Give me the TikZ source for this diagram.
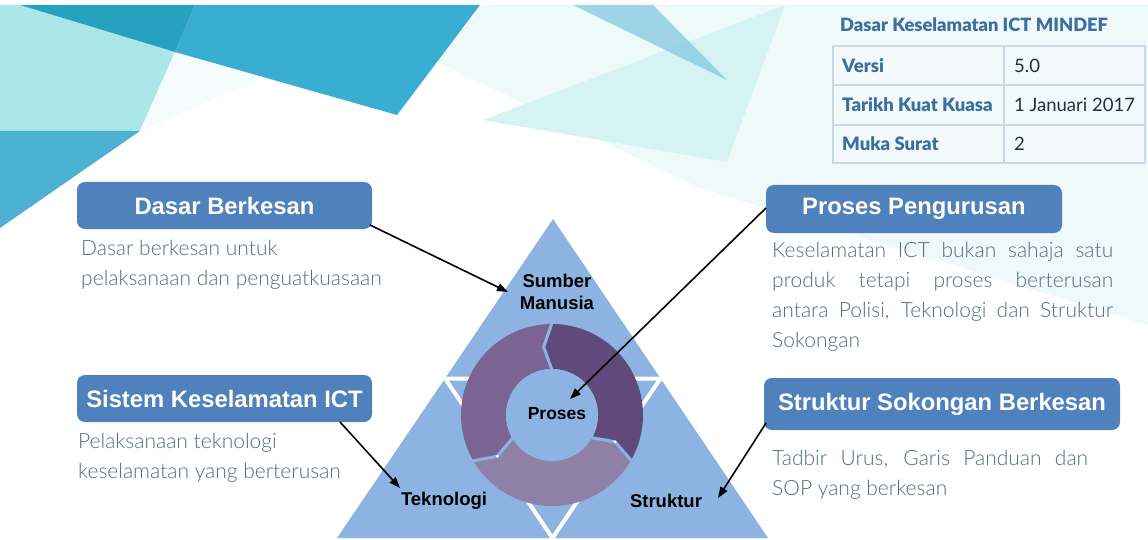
\documentclass[tikz,border=0pt]{standalone}
\usepackage{fontspec}
\setmainfont{Lato}
\newfontfamily\arialf{Liberation Sans}
\newfontfamily\latolight{Lato Light}
\newfontfamily\latoblack{Lato Black}
\usetikzlibrary{arrows.meta}
\definecolor{bgLight}{HTML}{EEF9FA}
\definecolor{bgFaint}{HTML}{F4FCFC}
\definecolor{bgTeal}{HTML}{ABE6E8}
\definecolor{bgMid}{HTML}{4DB1D4}
\definecolor{bgDark}{HTML}{27A1BD}
\definecolor{bgBand}{HTML}{3AAED0}
\definecolor{bgCyan}{HTML}{D6F3F3}
\definecolor{bgBlue}{HTML}{7CC6DE}
\definecolor{triBlue}{HTML}{8DB3E2}
\definecolor{segDark}{HTML}{604A7B}
\definecolor{segMid}{HTML}{7A6592}
\definecolor{segLight}{HTML}{8F80A8}
\definecolor{hdrBlue}{HTML}{4F81BD}
\definecolor{bodyText}{HTML}{566A84}
\definecolor{tblLine}{HTML}{CAD9E8}
\definecolor{tblFill}{HTML}{F2FAFB}
\definecolor{tblLabel}{HTML}{3E6E9E}
\definecolor{tblValue}{HTML}{1F2F45}
\tikzset{
  hdr/.style={fill=hdrBlue, rounded corners=8pt, text=white, inner sep=0pt,
    font=\arialf\bfseries\fontsize{23.8}{28}\selectfont},
  body/.style={anchor=base west, inner sep=0pt, text=bodyText},
  trilabel/.style={inner sep=0pt, text=black, align=center,
    font=\arialf\bfseries\fontsize{18.5}{22}\selectfont},
  conn/.style={draw=black, line width=1.6pt, -{Triangle[length=11pt,width=8pt]}},
  tbllabel/.style={anchor=base west, inner sep=0pt, text=tblLabel,
    font=\latoblack\fontsize{18.5}{22}\selectfont},
  tblvalue/.style={anchor=base west, inner sep=0pt, text=tblValue,
    font=\fontsize{18.5}{22}\selectfont},
  gap/.style={draw=triBlue, line width=3pt, line join=round}
}
\newcommand{\bodypar}[2]{\parbox[t]{#1}{\latolight\fontsize{21}{30}\selectfont\raggedright #2}}
\begin{document}
\begin{tikzpicture}[x=1pt,y=-1pt]
\useasboundingbox (0,0) rectangle (1148,540);
\fill[white] (0,0) rectangle (1148,540);
% background shapes
\fill[bgLight] (483,5) -- (1148,5) -- (1148,325) -- (700,188) -- (437,62) -- cycle;
\fill[bgCyan] (483,120) -- (785,5) -- (727,162) -- cycle;
\fill[bgBlue, opacity=0.7] (573,5) -- (653,5) -- (727,80) -- cycle;
\fill[bgTeal] (0,5) -- (20,5) -- (175,52) -- (140,131) -- (0,131) -- cycle;
\fill[bgMid] (0,131) -- (140,131) -- (0,228) -- cycle;
\fill[bgFaint] (175,52) -- (262,78) -- (140,131) -- cycle;
\fill[bgDark] (20,5) -- (195,5) -- (175,52) -- cycle;
\fill[bgBand] (195,5) -- (480,5) -- (397,115) -- (175,52) -- cycle;
% table
\draw[tblLine, line width=2pt, fill=tblFill] (833,46) rectangle (1145,163);
\draw[tblLine, line width=2pt] (833,85.5) -- (1145,85.5) (833,125) -- (1145,125) (1004,46) -- (1004,163);
\node[anchor=base west, inner sep=0pt, text=tblLabel, font=\latoblack\fontsize{18.3}{20}\selectfont] (tblTitle) at (840,32) {Dasar Keselamatan ICT MINDEF};
\node[tbllabel] (lVersi) at (842,73) {Versi};
\node[tbllabel] (lTarikh) at (842,112) {Tarikh Kuat Kuasa};
\node[tbllabel] (lMuka) at (842,151) {Muka Surat};
\node[tblvalue] (vVersi) at (1014,73) {5.0};
\node[tblvalue] (vTarikh) at (1014,112) {1 Januari 2017};
\node[tblvalue] (vMuka) at (1014,151) {2};
% triangle
\fill[triBlue] (553,219) -- (768,538) -- (337,538) -- cycle;
\draw[white, line width=4pt, line join=bevel] (445,378.5) -- (660.5,378.5) -- (552.5,538) -- cycle;
% ring
\begin{scope}[shift={(552,415)}]
  \fill[segDark] (-30:91pt) arc[start angle=-30, end angle=90, radius=91pt] -- (97:68.5pt) -- (90:46pt)
     arc[start angle=90, end angle=-30, radius=46pt] -- (-23:68.5pt) -- cycle;
  \fill[segMid] (90:91pt) arc[start angle=90, end angle=210, radius=91pt] -- (217:68.5pt) -- (210:46pt)
     arc[start angle=210, end angle=90, radius=46pt] -- (97:68.5pt) -- cycle;
  \fill[segLight] (210:91pt) arc[start angle=210, end angle=330, radius=91pt] -- (337:68.5pt) -- (330:46pt)
     arc[start angle=330, end angle=210, radius=46pt] -- (217:68.5pt) -- cycle;
  \draw[gap] (90:92pt) -- (97:68.5pt) -- (90:45pt);
  \draw[gap] (210:92pt) -- (217:68.5pt) -- (210:45pt);
  \draw[gap] (330:92pt) -- (337:68.5pt) -- (330:45pt);
  \fill[white] (217:68.5pt) circle[radius=1.5pt] (337:68.5pt) circle[radius=1.5pt];
  \fill[triBlue] (0,0) circle[radius=46pt];
\end{scope}
\node[trilabel] (sumber) at (557,292) {Sumber\\Manusia};
\node[trilabel, font=\arialf\bfseries\fontsize{17.5}{21}\selectfont] (proses) at (557,414) {Proses};
\node[trilabel] (teknologi) at (444,501) {Teknologi};
\node[trilabel] (struktur) at (666,501) {Struktur};
% headers
\node[hdr, minimum width=295pt, minimum height=47pt] (hDasar) at (224.5,205.5) {Dasar Berkesan};
\node[hdr, minimum width=295pt, minimum height=47pt] (hSistem) at (224.5,398.5) {Sistem Keselamatan ICT};
\node[hdr, minimum width=296pt, minimum height=48pt] (hProses) at (914,209) {Proses Pengurusan};
\node[hdr, minimum width=356pt, minimum height=52pt] (hStruktur) at (942,404) {Struktur Sokongan Berkesan};
% body texts
\node[body] (tDasar) at (81,255) {\bodypar{320pt}{Dasar berkesan untuk\\pelaksanaan dan penguatkuasaan}};
\node[body] (tSistem) at (78,448) {\bodypar{320pt}{Pelaksanaan teknologi\\keselamatan yang berterusan}};
\node[body] (tProses) at (772,257) {\bodypar{341pt}{%
  \makebox[\linewidth][s]{Keselamatan ICT bukan sahaja satu}\\
  \makebox[\linewidth][s]{produk tetapi proses berterusan}\\
  \makebox[\linewidth][s]{antara Polisi, Teknologi dan Struktur}\\
  Sokongan}};
\node[body] (tStruktur) at (772,465) {\bodypar{316pt}{%
  \makebox[\linewidth][s]{Tadbir Urus, Garis Panduan dan}\\
  SOP yang berkesan}};
% connectors
\coordinate (sDasar) at (370,225);
\coordinate (eDasar) at (508,292);
\coordinate (sProses) at (766,208);
\coordinate (eProses) at (570,399);
\coordinate (sSistem) at (340,422);
\coordinate (eSistem) at (400,488);
\coordinate (sStruktur) at (766,423);
\coordinate (eStruktur) at (718,498);
\draw[conn] (sDasar) -- (eDasar);
\draw[conn] (sProses) -- (eProses);
\draw[conn] (sSistem) -- (eSistem);
\draw[conn] (sStruktur) -- (eStruktur);
\end{tikzpicture}
\end{document}
